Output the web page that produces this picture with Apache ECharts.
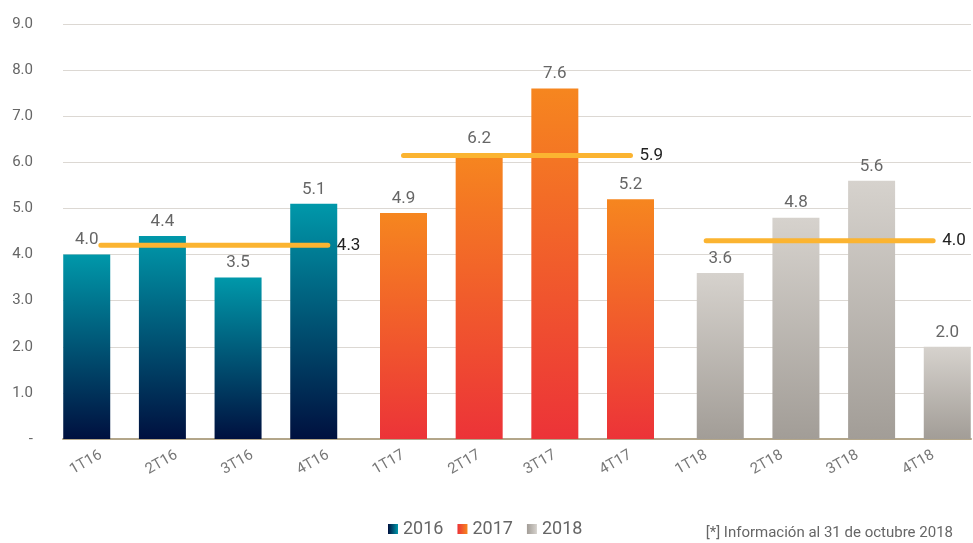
<!DOCTYPE html>
<html>
<head>
<meta charset="utf-8">
<script src="https://cdn.jsdelivr.net/npm/echarts@6/dist/echarts.min.js"></script>
<style>
  html, body { margin: 0; padding: 0; background: #fff; }
  #chart { width: 973px; height: 543px; }
</style>
</head>
<body>
<div id="chart"></div>
<script>
// categorías trimestrales
const categories = ['1T16', '2T16', '3T16', '4T16', '1T17', '2T17', '3T17', '4T17', '1T18', '2T18', '3T18', '4T18'];
const years = ['2016', '2017', '2018'];
// valores por año
const values2016 = [4.0, 4.4, 3.5, 5.1];
const values2017 = [4.9, 6.2, 7.6, 5.2];
const values2018 = [3.6, 4.8, 5.6, 2.0];
// promedio anual: etiqueta y nivel dibujado
const avgLabels = ['4.3', '5.9', '4.0'];
const avgLevels = [4.2, 6.15, 4.3];
const yTicks = [0, 1, 2, 3, 4, 5, 6, 7, 8, 9];

const groups = [values2016, values2017, values2018];
const colors = [
    ['#0098AA', '#00103F'],
    ['#F6861F', '#EC3338'],
    ['#D6D2CD', '#A29D97']
];
const fontFamily = 'Roboto, "DejaVu Sans", sans-serif';

function vGrad(c) {
    return new echarts.graphic.LinearGradient(0, 0, 0, 1, [
        { offset: 0, color: c[0] },
        { offset: 1, color: c[1] }
    ]);
}
function hGrad(c) {
    return new echarts.graphic.LinearGradient(0, 0, 1, 0, [
        { offset: 0, color: c[1] },
        { offset: 1, color: c[0] }
    ]);
}

// rellena con '-' fuera del grupo del año
function spread(vals, g) {
    return categories.map(function (c, i) {
        let k = i - g * 4;
        return (k >= 0 && k < 4) ? vals[k] : '-';
    });
}

let series = [];
groups.forEach(function (vals, g) {
    series.push({
        name: years[g],
        type: 'bar',
        barWidth: 47,
        barGap: '-70%',
        data: spread(vals, g),
        itemStyle: { color: vGrad(colors[g]) },
        label: {
            show: true,
            position: 'top',
            distance: 6,
            color: '#666',
            fontSize: 17,
            fontFamily: fontFamily,
            formatter: function (p) { return p.value.toFixed(1); }
        }
    });
});
groups.forEach(function (vals, g) {
    series.push({
        type: 'line',
        data: spread(vals.map(function () { return avgLevels[g]; }), g),
        symbol: 'none',
        z: 5,
        lineStyle: { color: '#FBB431', width: 5, cap: 'round' },
        endLabel: {
            show: true,
            distance: 9,
            color: '#222',
            fontSize: 17,
            fontFamily: fontFamily,
            formatter: function () { return avgLabels[g]; }
        },
        emphasis: { disabled: true }
    });
});

const myChart = echarts.init(document.getElementById('chart'));
myChart.setOption({
    animation: false,
    grid: { left: 63, right: 2, top: 24, bottom: 104 },
    legend: {
        left: 383,
        top: 515,
        itemWidth: 10,
        itemHeight: 10,
        itemGap: 14,
        textStyle: { color: '#666', fontSize: 18, fontFamily: fontFamily },
        data: years.map(function (y, g) {
            return { name: y, icon: 'rect', itemStyle: { color: hGrad(colors[g]) } };
        })
    },
    xAxis: {
        type: 'category',
        data: categories,
        axisLine: { lineStyle: { color: '#B3A68A', width: 2 } },
        axisTick: { show: false },
        axisLabel: {
            rotate: 30,
            margin: 15,
            color: '#777',
            fontSize: 15,
            fontFamily: fontFamily
        }
    },
    yAxis: {
        type: 'value',
        min: yTicks[0],
        max: yTicks[yTicks.length - 1],
        interval: 1,
        axisLine: { show: false },
        axisTick: { show: false },
        splitLine: { lineStyle: { color: '#DCD8D3', width: 1 } },
        axisLabel: {
            margin: 30,
            color: '#666',
            fontSize: 15,
            fontFamily: fontFamily,
            formatter: function (v) { return v === 0 ? '-' : v.toFixed(1); }
        }
    },
    graphic: [{
        type: 'text',
        right: 20,
        top: 526,
        style: {
            text: '[*] Información al 31 de octubre 2018',
            fill: '#666',
            fontSize: 15,
            fontFamily: fontFamily
        }
    }],
    series: series
});
</script>
</body>
</html>
